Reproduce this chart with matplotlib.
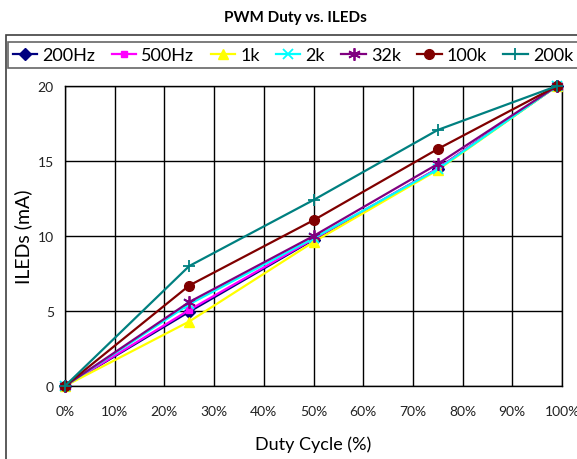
import matplotlib
matplotlib.use("Agg")
import matplotlib.pyplot as plt
from matplotlib.patches import Rectangle
from matplotlib.ticker import FuncFormatter

plt.rcParams['font.family'] = ['Lato', 'DejaVu Sans']

duty = [0.0, 0.25, 0.5, 0.75, 0.99]
series_names = ["200Hz", "500Hz", "1k", "2k", "32k", "100k", "200k"]
i_200hz = [0.0, 4.95, 9.75, 14.5, 20.0]
i_500hz = [0.0, 5.07, 9.8, 14.5, 20.0]
i_1k = [0.0, 4.3, 9.6, 14.4, 20.0]
i_2k = [0.0, 5.45, 9.85, 14.45, 20.0]
i_32k = [0.0, 5.6, 10.0, 14.8, 20.0]
i_100k = [0.0, 6.7, 11.05, 15.8, 20.0]
i_200k = [0.0, 8.0, 12.4, 17.07, 20.0]
x_ticks = [0.0, 0.1, 0.2, 0.3, 0.4, 0.5, 0.6, 0.7, 0.8, 0.9, 1.0]
y_ticks = [0, 5, 10, 15, 20]

values = [i_200hz, i_500hz, i_1k, i_2k, i_32k, i_100k, i_200k]
colors = ["#000080", "#FF00FF", "#FFFF00", "#00FFFF", "#800080", "#800000", "#008080"]
markers = ["D", "s", "^", "x", (6, 2, 0), "o", "+"]
msizes = [6, 5, 7, 7, 9, 7, 8]

W, H = 577, 460
fig = plt.figure(figsize=(W / 100, H / 100), dpi=100)
fig.patch.set_facecolor("white")

# outer chart frame
fig.add_artist(Rectangle((6 / W, -0.1), 1.2, 1 - 36 / H + 0.1, transform=fig.transFigure,
                         fill=False, edgecolor="#404040", linewidth=1.2))

ax = fig.add_axes([65 / W, 1 - 387 / H, (562 - 65) / W, (387 - 87) / H])
for name, vals, c, m, ms in zip(series_names, values, colors, markers, msizes):
    ax.plot(duty, vals, color=c, marker=m, markersize=ms, linewidth=1.6,
            markeredgewidth=1.3 if m in ("x", "+") or isinstance(m, tuple) else 1.0,
            label=name, clip_on=False, zorder=3)

ax.set_xlim(0, 1.0)
ax.set_ylim(0, 20)
ax.set_xticks(x_ticks)
ax.set_yticks(y_ticks)
ax.xaxis.set_major_formatter(FuncFormatter(lambda v, p: f"{v * 100:.0f}%"))
ax.grid(True, color="black", linewidth=1.0)
ax.set_axisbelow(True)
ax.tick_params(length=0, labelsize=10, pad=14, colors="#222222")
ax.tick_params(axis="y", pad=8)
for s in ax.spines.values():
    s.set_color("black")
    s.set_linewidth(1.0)
ax.set_xlabel("Duty Cycle (%)", fontsize=13, labelpad=13)
ax.set_ylabel("ILEDs (mA)", fontsize=14, labelpad=4)

fig.text(295 / W, 1 - 18 / H, "PWM Duty vs. ILEDs", ha="center", va="center",
         fontsize=11, fontweight="bold")

leg = fig.legend(loc="center", bbox_to_anchor=(293 / W, 1 - 56 / H), ncol=7,
                 fontsize=13, frameon=True, fancybox=False, edgecolor="#404040",
                 handlelength=1.36, handletextpad=0.28, columnspacing=0.9,
                 borderpad=0.3, borderaxespad=0)
leg.get_frame().set_linewidth(1.2)

fig.savefig("out.png", dpi=100)
